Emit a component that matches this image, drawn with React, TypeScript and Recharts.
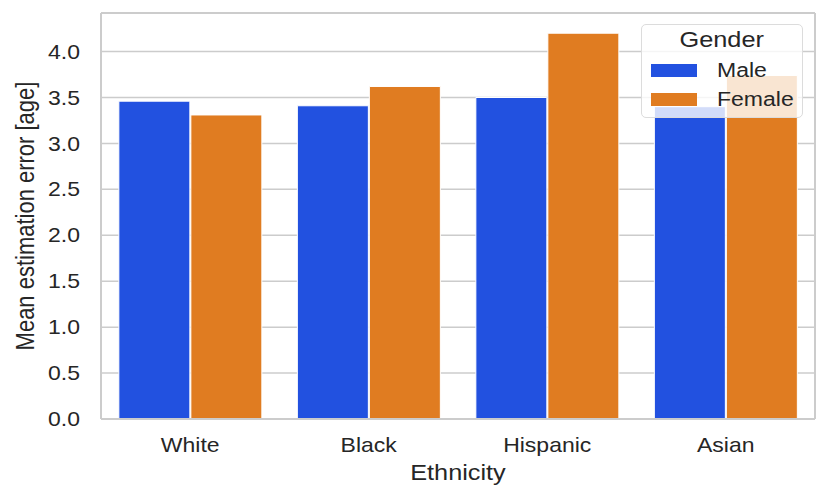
import { BarChart, Bar, XAxis, YAxis, CartesianGrid, Legend, Label } from "recharts";

const ethnicities = ["White", "Black", "Hispanic", "Asian"];
const genders = ["Male", "Female"];
const maleError = [3.46, 3.41, 3.5, 3.4];
const femaleError = [3.31, 3.62, 4.2, 3.74];
const yTicks = [0, 0.5, 1, 1.5, 2, 2.5, 3, 3.5, 4];

const data = ethnicities.map((ethnicity, i) => ({
  ethnicity,
  Male: maleError[i],
  Female: femaleError[i],
}));

const FONT = "'Liberation Sans', Arial, Helvetica, sans-serif";
const TEXT = "#262626";
const SPINE = "#cccccc";
// the reference glyphs are a little wider than plain Arial
const WIDE = "scaleX(1.15)";

const GenderLegend = ({ payload }: any) => {
  const items = [...(payload || [])].sort((a: any, b: any) => genders.indexOf(a.value) - genders.indexOf(b.value));
  return (
    <div
      style={{
        position: "relative",
        width: 162,
        height: 94,
        boxSizing: "border-box",
        background: "rgba(255,255,255,0.8)",
        border: "1px solid #dcdcdc",
        borderRadius: 5,
        fontFamily: FONT,
        color: TEXT,
      }}
    >
      <div style={{ position: "absolute", top: 4, left: 0, width: "100%", textAlign: "center", fontSize: 22, lineHeight: "22px" }}>
        <span style={{ display: "inline-block", transform: WIDE }}>Gender</span>
      </div>
      {items.map((entry: any, i: number) => (
        <div key={entry.value}>
          <div style={{ position: "absolute", left: 9, top: 39 + i * 29, width: 46, height: 13, background: entry.color }} />
          <div style={{ position: "absolute", left: 75, top: 35 + i * 29, fontSize: 20, lineHeight: "20px" }}>
            <span style={{ display: "inline-block", transform: WIDE, transformOrigin: "left center" }}>{entry.value}</span>
          </div>
        </div>
      ))}
    </div>
  );
};

// rotated axis title, stretched across its glyph height like the other texts
const YTitle = ({ viewBox }: any) => {
  if (!viewBox) return null;
  const cx = viewBox.x + 25;
  const cy = viewBox.y + viewBox.height / 2;
  return (
    <text
      transform={`translate(${cx}, ${cy}) rotate(-90) scale(1, 1.15)`}
      textAnchor="middle"
      dy="0.355em"
      fontSize={22}
      fontFamily={FONT}
      fill={TEXT}
    >
      Mean estimation error [age]
    </text>
  );
};

export default function App() {
  return (
    <div style={{ position: "absolute", left: 0, top: 0, width: 831, height: 498, background: "#fff" }}>
      <BarChart
        width={831}
        height={498}
        data={data}
        margin={{ top: 0, right: 0, bottom: 0, left: 0 }}
        barCategoryGap="10%"
        barGap={1}
      >
        <CartesianGrid vertical={false} stroke={SPINE} strokeWidth={1.5} />
        <XAxis
          dataKey="ethnicity"
          height={79}
          tickSize={0}
          tickMargin={19}
          tick={{
            fontSize: 20,
            fill: TEXT,
            fontFamily: FONT,
            style: { transform: WIDE, transformBox: "fill-box", transformOrigin: "center" },
          }}
          axisLine={{ stroke: SPINE, strokeWidth: 2 }}
        >
          <Label
            value="Ethnicity"
            position="insideBottom"
            offset={18}
            style={{ fontSize: 22, fill: TEXT, fontFamily: FONT, transform: WIDE, transformBox: "fill-box", transformOrigin: "center" }}
          />
        </XAxis>
        <XAxis xAxisId="top" orientation="top" dataKey="ethnicity" height={13} tick={false} tickLine={false} axisLine={{ stroke: SPINE, strokeWidth: 2 }} />
        <YAxis
          width={101}
          domain={[0, 4.42]}
          ticks={yTicks}
          tickSize={0}
          tickMargin={21}
          tickFormatter={(v: number) => v.toFixed(1)}
          tick={{
            fontSize: 20,
            fill: TEXT,
            fontFamily: FONT,
            style: { transform: WIDE, transformBox: "fill-box", transformOrigin: "right center" },
          }}
          axisLine={{ stroke: SPINE, strokeWidth: 2 }}
        >
          <Label content={YTitle} />
        </YAxis>
        <YAxis yAxisId="right" orientation="right" width={16} tick={false} tickLine={false} axisLine={{ stroke: SPINE, strokeWidth: 2 }} />
        <Bar dataKey="Male" name="Male" fill="#2251e0" stroke="#ffffff" strokeWidth={1} isAnimationActive={false} />
        <Bar dataKey="Female" name="Female" fill="#e07c21" stroke="#ffffff" strokeWidth={1} isAnimationActive={false} />
        <Legend
          layout="vertical"
          verticalAlign="middle"
          align="center"
          wrapperStyle={{ top: 24, left: 641, width: 162 }}
          content={GenderLegend}
        />
      </BarChart>
    </div>
  );
}
